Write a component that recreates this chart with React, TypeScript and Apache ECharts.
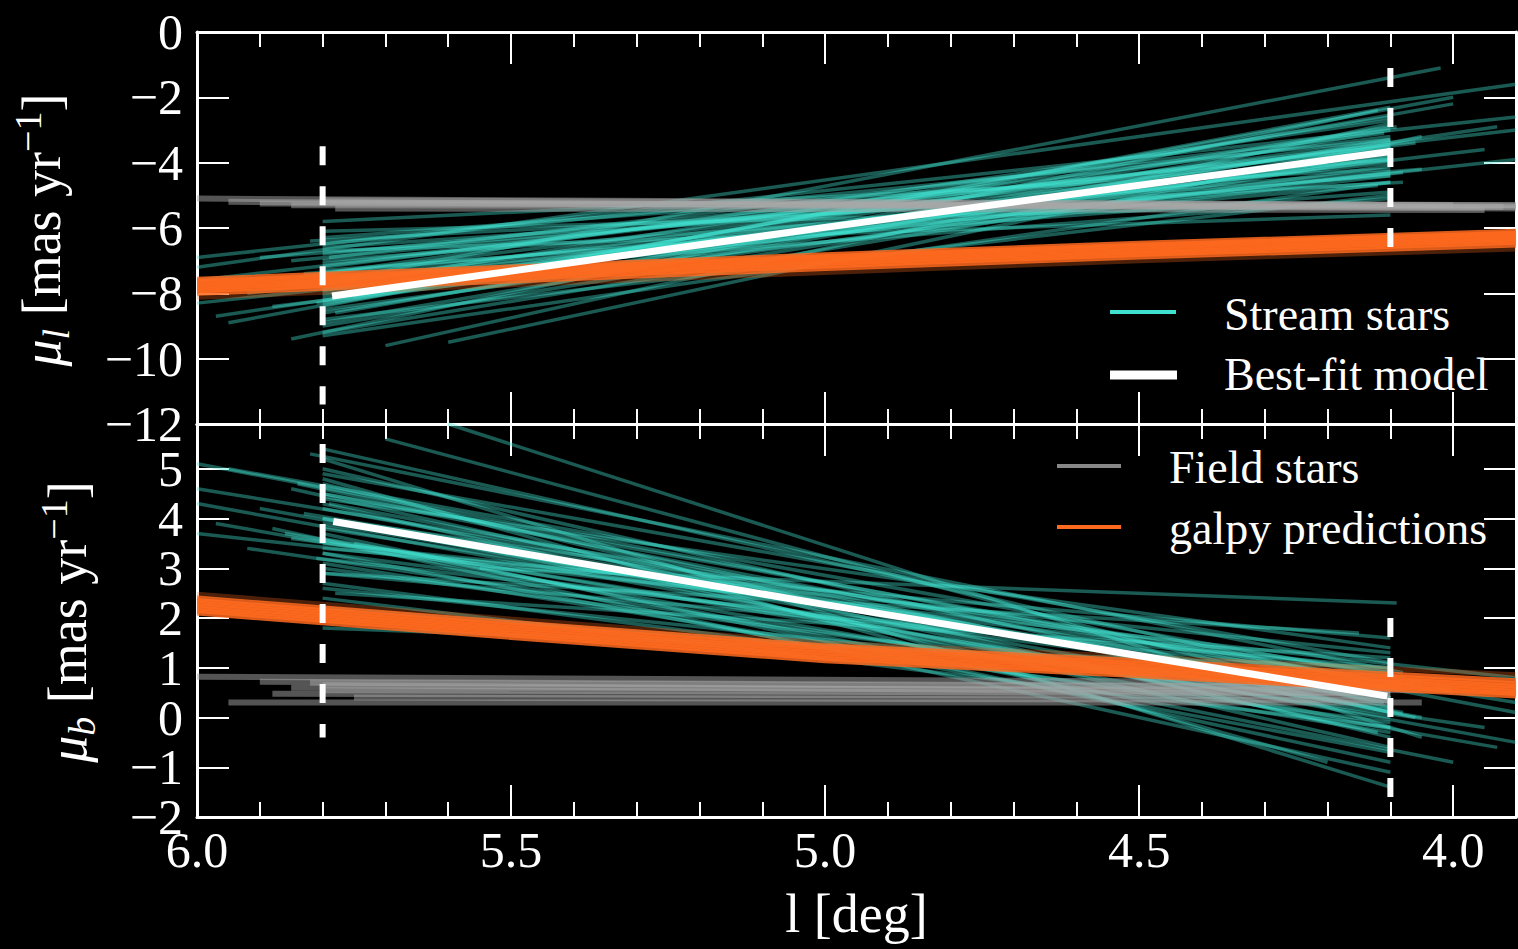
import React, { useEffect, useRef } from 'react';
import * as echarts from 'echarts';

const FONT = '"Liberation Serif", "DejaVu Serif", serif';

// Tick values
const xMajor = [6.0, 5.5, 5.0, 4.5, 4.0];
const xMinor = [5.9, 5.8, 5.7, 5.6, 5.4, 5.3, 5.2, 5.1, 4.9, 4.8, 4.7, 4.6, 4.4, 4.3, 4.2, 4.1];
const topYTicks = [0, -2, -4, -6, -8, -10, -12];
const botYTicks = [5, 4, 3, 2, 1, 0, -1, -2];
const botYLabelsA = [5, 3, 1, -1];
const botYLabelsB = [4, 2, 0, -2];

// Stream stars: [l start, value start, l end, value end]
const streamTop = [
  [5.80, -7.9, 4.10, -3.7], [5.82, -6.4, 4.08, -4.6], [5.85, -9.4, 4.12, -2.4], [5.78, -8.6, 4.10, -3.0],
  [5.90, -6.9, 4.05, -4.2], [5.80, -7.3, 4.10, -4.9], [5.95, -8.9, 4.00, -2.0], [5.80, -6.1, 4.15, -5.3],
  [5.70, -9.6, 4.10, -2.8], [5.80, -8.2, 4.10, -3.4], [6.00, -7.6, 3.90, -3.0], [5.85, -7.0, 4.10, -3.9],
  [5.80, -9.0, 4.20, -4.0], [5.78, -7.6, 4.02, -1.1], [5.80, -6.7, 4.10, -5.6], [6.00, -6.9, 3.90, -2.6],
  [5.88, -8.4, 4.10, -4.4], [5.80, -5.8, 4.10, -4.2], [5.60, -9.5, 4.05, -3.2], [5.80, -7.8, 4.10, -2.6],
  [5.92, -8.0, 3.95, -3.6], [5.80, -8.8, 4.10, -5.0], [6.00, -7.2, 3.90, -1.6], [5.80, -6.5, 4.10, -3.3],
  [5.83, -7.4, 4.12, -4.7], [5.80, -9.2, 4.10, -3.8], [5.75, -8.1, 4.00, -2.2], [6.00, -8.3, 3.90, -3.9],
  [5.80, -7.1, 4.10, -3.5], [5.80, -8.5, 4.10, -4.1], [5.86, -7.7, 4.08, -4.3], [5.79, -6.9, 4.11, -3.1],
  [5.81, -8.3, 4.09, -2.9], [5.84, -7.5, 4.06, -3.4], [5.97, -8.7, 3.93, -2.9], [5.80, -6.3, 4.10, -3.9],
  [5.80, -8.0, 4.10, -3.9], [5.80, -7.7, 4.10, -3.3], [5.80, -8.3, 4.10, -3.8], [5.80, -7.5, 4.10, -4.0],
  [5.80, -8.6, 4.10, -3.5], [5.80, -7.2, 4.10, -3.2], [5.80, -7.9, 4.10, -4.3], [5.80, -8.1, 4.10, -2.9],
  [5.80, -6.8, 4.10, -3.6], [5.80, -8.9, 4.10, -3.3], [5.80, -7.4, 4.10, -2.7], [5.80, -6.6, 4.10, -4.4],
  [5.80, -9.3, 4.10, -4.6], [5.80, -7.0, 4.10, -4.6], [5.80, -8.4, 4.10, -2.3], [5.80, -7.6, 4.10, -5.1],
];
const streamBottom = [
  [5.80, 3.9, 4.10, 0.4], [5.82, 5.3, 4.08, 0.9], [5.85, 4.6, 4.12, -0.3], [5.78, 2.5, 4.10, 1.2],
  [5.90, 4.2, 4.05, 0.0], [5.80, 3.3, 4.10, -0.7], [5.95, 5.0, 4.00, 0.6], [5.80, 2.9, 4.15, 1.7],
  [5.70, 5.6, 4.10, 0.2], [5.80, 4.0, 4.10, -0.2], [6.00, 4.3, 3.90, -0.5], [5.85, 3.6, 4.10, 0.9],
  [5.80, 4.8, 4.20, -0.9], [5.55, 3.0, 4.09, 2.3], [5.80, 2.2, 4.10, 0.6], [6.00, 5.1, 3.90, 0.1],
  [5.88, 3.8, 4.10, -1.1], [5.80, 1.8, 4.10, 1.0], [5.60, 5.9, 4.05, -0.4], [5.80, 4.4, 4.10, 1.4],
  [5.92, 3.4, 3.95, -0.2], [5.80, 5.2, 4.10, -1.4], [6.00, 3.7, 3.90, 0.8], [5.80, 2.7, 4.10, -0.1],
  [5.83, 4.1, 4.12, 0.5], [5.80, 4.9, 4.10, 1.1], [5.75, 3.5, 4.00, -0.9], [6.00, 4.6, 3.90, 0.3],
  [5.80, 3.0, 4.10, 0.2], [5.80, 4.5, 4.10, 0.7], [5.86, 3.7, 4.08, 0.1], [5.79, 4.3, 4.11, 0.3],
  [5.81, 3.2, 4.09, 0.8], [5.84, 4.7, 4.06, 0.0], [5.97, 3.9, 3.93, -0.6], [5.80, 3.5, 4.10, 1.3],
  [5.80, 3.8, 4.10, 0.5], [5.80, 4.2, 4.10, 0.3], [5.80, 3.6, 4.10, 0.0], [5.80, 4.5, 4.10, 0.4],
  [5.80, 3.3, 4.10, 0.6], [5.80, 4.7, 4.10, -0.4], [5.80, 3.1, 4.10, -0.3], [5.80, 4.0, 4.10, 0.9],
  [5.80, 2.6, 4.10, 0.4], [5.80, 5.0, 4.10, 0.1], [5.80, 3.4, 4.10, 1.6], [5.80, 4.3, 4.10, -0.6],
  [5.80, 2.4, 4.10, -0.2], [5.80, 3.7, 4.10, -0.9], [5.80, 5.4, 4.10, 0.6], [5.80, 2.9, 4.10, 1.0],
];

// Field stars: [l start, value start, l end, value end]
const fieldTop = [
  [6.00, -5.10, 3.90, -5.30], [5.95, -5.20, 3.90, -5.40], [5.85, -5.30, 3.92, -5.35],
  [5.80, -5.15, 4.00, -5.30], [5.78, -5.40, 3.95, -5.45], [5.90, -5.25, 3.90, -5.30],
  [5.80, -5.22, 3.90, -5.36],
];
const fieldBottom = [
  [6.00, 0.82, 4.05, 0.70], [5.90, 0.72, 4.10, 0.62], [5.85, 0.60, 4.00, 0.55],
  [5.88, 0.48, 4.10, 0.42], [5.95, 0.30, 4.05, 0.30], [5.80, 0.65, 4.15, 0.50],
  [5.75, 0.40, 4.10, 0.35], [5.80, 0.55, 4.10, 0.48], [5.82, 0.70, 4.08, 0.60],
];

// galpy predictions, values at galpyL
const galpyL = [6.0, 5.5, 5.0, 4.5, 3.9];
const galpyTop = [
  [-8.12, -7.74, -7.36, -7.00, -6.64],
  [-8.00, -7.62, -7.24, -6.89, -6.52],
  [-7.92, -7.54, -7.16, -6.81, -6.44],
  [-7.85, -7.47, -7.09, -6.74, -6.37],
  [-7.78, -7.40, -7.02, -6.67, -6.30],
  [-7.71, -7.33, -6.95, -6.60, -6.23],
  [-7.64, -7.26, -6.88, -6.53, -6.16],
  [-7.57, -7.19, -6.82, -6.47, -6.10],
];
const galpyBottom = [
  [2.48, 1.98, 1.50, 1.22, 0.86],
  [2.10, 1.61, 1.14, 0.84, 0.43],
  [2.15, 1.66, 1.19, 0.89, 0.48],
  [2.20, 1.71, 1.24, 0.94, 0.53],
  [2.25, 1.76, 1.29, 0.99, 0.58],
  [2.30, 1.81, 1.34, 1.04, 0.63],
  [2.35, 1.86, 1.39, 1.09, 0.68],
  [2.40, 1.91, 1.44, 1.14, 0.74],
];

// Best-fit model
const bestFitTop = [[5.785, -8.08], [5.0, -5.98], [4.1, -3.66]];
const bestFitBottom = [[5.783, 3.94], [5.0, 2.27], [4.105, 0.43]];

// Dashed vertical markers: [l, value top, value bottom]
const dashTop = [[5.8, -3.5, -11.4], [4.1, -1.1, -6.6]];
const dashBottom = [[5.8, 5.5, -0.4], [4.1, 2.0, -1.6]];

const CYAN = '#40E0D0';
const ORANGE = '#FF6A1F';
const GRAY = '#a8a8a8';

const fmtY = (v: number) => (v < 0 ? '\u2212' + Math.abs(v) : String(v));

export default function App() {
  const ref = useRef<HTMLDivElement>(null);

  useEffect(() => {
    if (!ref.current) return;
    const chart = echarts.init(ref.current, null, { renderer: 'svg' });

    const gridL = 197, gridW = 1319;
    const grids = [
      { left: gridL, top: 32, width: gridW, height: 392 },
      { left: gridL, top: 424, width: gridW, height: 393 },
    ];

    const xAx = (grid: number, pos: string, ticks: number[], len: number, line: boolean, labels: boolean) => ({
      type: 'value', gridIndex: grid, position: pos, min: 3.9, max: 6.0, inverse: true,
      axisLine: { show: line, onZero: false, lineStyle: { color: '#fff', width: 3 } },
      axisTick: { show: true, inside: true, length: len, customValues: ticks, lineStyle: { color: '#fff', width: 2 } },
      axisLabel: labels ? {
        show: true, customValues: xMajor, color: '#fff', fontFamily: FONT, fontSize: 50, margin: 8,
        showMinLabel: true, showMaxLabel: true,
        formatter: (v: number) => v.toFixed(1),
      } : { show: false },
      splitLine: { show: false },
      ...(labels ? { name: 'l [deg]', nameLocation: 'middle', nameGap: 70, nameTextStyle: { color: '#fff', fontFamily: FONT, fontSize: 54 } } : {}),
    });

    const xAxes = [
      xAx(0, 'bottom', xMajor, 32, true, false),
      xAx(0, 'bottom', xMinor, 15, false, false),
      xAx(0, 'top', xMajor, 32, true, false),
      xAx(0, 'top', xMinor, 15, false, false),
      xAx(1, 'bottom', xMajor, 32, true, true),
      xAx(1, 'bottom', xMinor, 15, false, false),
      xAx(1, 'top', xMajor, 32, true, false),
      xAx(1, 'top', xMinor, 15, false, false),
    ];

    const yAx = (grid: number, pos: string, min: number, max: number, ticks: number[] | null, labels: number[] | null, line: boolean) => ({
      type: 'value', gridIndex: grid, position: pos, min, max,
      axisLine: { show: line, onZero: false, lineStyle: { color: '#fff', width: 3 } },
      axisTick: ticks ? { show: true, inside: true, length: 32, customValues: ticks, lineStyle: { color: '#fff', width: 2 } } : { show: false },
      axisLabel: labels ? {
        show: true, customValues: labels, color: '#fff', fontFamily: FONT, fontSize: 50, lineHeight: 44,
        margin: 14, formatter: fmtY, showMinLabel: true, showMaxLabel: true, hideOverlap: false,
      } : { show: false },
      splitLine: { show: false },
    });

    const yAxes = [
      yAx(0, 'left', -12, 0, topYTicks, topYTicks, true),
      yAx(0, 'right', -12, 0, topYTicks, null, true),
      yAx(1, 'left', -2, 5.9, botYTicks, botYLabelsA, true),
      yAx(1, 'right', -2, 5.9, botYTicks, null, true),
      yAx(1, 'left', -2, 5.9, null, botYLabelsB, false),
    ];

    const series: any[] = [];
    const line = (xi: number, yi: number, data: number[][], ls: any) => ({
      type: 'line', xAxisIndex: xi, yAxisIndex: yi, data, symbol: 'none', silent: true,
      lineStyle: ls, animation: false, z: 2,
    });
    const panels = [
      { xi: 0, yi: 0, stream: streamTop, field: fieldTop, galpy: galpyTop, best: bestFitTop, dash: dashTop },
      { xi: 4, yi: 2, stream: streamBottom, field: fieldBottom, galpy: galpyBottom, best: bestFitBottom, dash: dashBottom },
    ];
    panels.forEach((p) => {
      p.stream.forEach((s) => series.push(line(p.xi, p.yi, [[s[0], s[1]], [s[2], s[3]]], { color: CYAN, width: 3.5, opacity: 0.4 })));
      p.field.forEach((s) => series.push(line(p.xi, p.yi, [[s[0], s[1]], [s[2], s[3]]], { color: GRAY, width: 6, opacity: 0.5 })));
      p.galpy.forEach((vals, i) => series.push(line(p.xi, p.yi, galpyL.map((l, j) => [l, vals[j]]), { color: ORANGE, width: 5, opacity: i === 0 ? 0.3 : 0.85 })));
      series.push(line(p.xi, p.yi, p.best, { color: '#fff', width: 7 }));
      p.dash.forEach((d) => series.push(line(p.xi, p.yi, [[d[0], d[1]], [d[0], d[2]]], { color: '#fff', width: 6, type: [19, 21], cap: 'butt' })));
    });

    const txt = (x: number, y: number, text: string) => ({
      type: 'text', x, y, silent: true,
      style: { text, fill: '#fff', fontFamily: FONT, fontSize: 46, align: 'left', verticalAlign: 'middle' },
    });
    const seg = (x1: number, x2: number, y: number, stroke: string, lineWidth: number) => ({
      type: 'line', silent: true, shape: { x1, y1: y, x2, y2: y }, style: { stroke, lineWidth },
    });
    const richLabel = (x: number, y: number, sub: string) => ({
      type: 'text', x, y, rotation: Math.PI / 2, silent: true,
      style: {
        text: `{mu|\u03bc}{sub|${sub}}{n| [mas yr}{sup|\u22121}{n|]}`,
        fill: '#fff', align: 'center', verticalAlign: 'middle',
        rich: {
          mu: { fontFamily: FONT, fontSize: 54, fontStyle: 'italic', fill: '#fff', lineHeight: 66 },
          sub: { fontFamily: FONT, fontSize: 38, fontStyle: 'italic', fill: '#fff', lineHeight: 38, verticalAlign: 'bottom' },
          n: { fontFamily: FONT, fontSize: 54, fill: '#fff', lineHeight: 66 },
          sup: { fontFamily: FONT, fontSize: 38, fill: '#fff', lineHeight: 38, verticalAlign: 'top' },
        },
      },
    });

    const graphic = [
      seg(1110, 1176, 312, CYAN, 4), txt(1224, 314, 'Stream stars'),
      seg(1110, 1177, 375, '#fff', 9), txt(1224, 374, 'Best-fit model'),
      seg(1057, 1121, 466, '#888', 4), txt(1169, 467, 'Field stars'),
      seg(1057, 1121, 527, ORANGE, 4), txt(1169, 528, 'galpy predictions'),
      richLabel(42, 230, 'l'),
      richLabel(68, 622, 'b'),
    ];

    chart.setOption({
      animation: false,
      backgroundColor: '#000',
      grid: grids,
      xAxis: xAxes,
      yAxis: yAxes,
      series,
      graphic,
    });
    return () => chart.dispose();
  }, []);

  return (
    <div
      ref={ref}
      style={{ position: 'fixed', left: 0, top: 0, width: 1518, height: 949, background: '#000' }}
    />
  );
}
